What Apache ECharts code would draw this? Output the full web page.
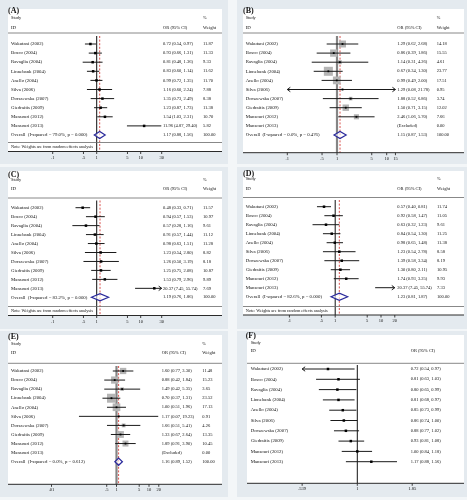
<!DOCTYPE html>
<html>
<head>
<meta charset="utf-8">
<script src="https://cdn.jsdelivr.net/npm/echarts@6.0.0/dist/echarts.min.js"></script>
<style>
html,body{margin:0;padding:0;background:#f3f6f8;}
#chart{width:467px;height:500px;}
</style>
</head>
<body>
<div id="chart"></div>
<script>
// ---------------- data ----------------
const studies = ["Wakutani (2002)","Bosco (2004)","Ravaglia (2004)","Linnebank (2004)","Anello (2004)","Silva (2006)","Dorszewska (2007)","Giedraitis (2009)","Mansouri (2012)","Mansouri (2013)"];

// (A)
const orA = [0.72,0.93,0.81,0.83,0.99,1.16,1.35,1.23,1.54,11.96];
const loA = [0.54,0.66,0.48,0.60,0.72,0.60,0.73,0.87,1.03,4.87];
const hiA = [0.97,1.31,1.36,1.14,1.35,2.24,2.49,1.73,2.31,29.40];
const wtA = [11.87,11.33,9.33,11.62,11.70,7.88,8.38,11.38,10.70,5.82];
const overallA = [1.17,0.88,1.56];
const hetA = "Overall  (I-squared = 79.0%, p = 0.000)";
const tickValA = [0.1,0.5,1,5,10,30];
const tickTxtA = [".1",".5","1","5","10","30"];

// (B)
const orB = [1.29,0.86,1.14,0.67,0.99,1.29,1.88,1.50,2.46,null];
const loB = [0.62,0.39,0.31,0.34,0.49,0.08,0.52,0.71,1.06,null];
const hiB = [2.68,1.86,4.26,1.30,2.00,21.78,6.86,3.15,5.70,null];
const wtB = [14.18,15.55,4.61,23.77,17.51,0.95,3.74,12.02,7.66,0.00];
const overallB = [1.15,0.87,1.53];
const hetB = "Overall  (I-squared = 0.0%, p = 0.476)";
const tickValB = [0.1,0.5,1,5,10,15];
const tickTxtB = [".1",".5","1","5","10","15"];

// (C)
const orC = [0.48,0.94,0.57,0.91,0.98,1.23,1.26,1.25,1.53,20.37];
const loC = [0.33,0.57,0.28,0.57,0.63,0.54,0.50,0.75,0.79,7.45];
const hiC = [0.71,1.53,1.16,1.44,1.51,2.80,3.19,2.08,2.96,55.74];
const wtC = [11.57,10.97,9.61,11.12,11.28,8.82,8.18,10.87,9.89,7.69];
const overallC = [1.19,0.76,1.86];
const hetC = "Overall  (I-squared = 83.2%, p = 0.000)";
const tickValC = [0.1,0.5,1,5,10,30];
const tickTxtC = [".1",".5","1","5","10","30"];

// (D)
const orD = [0.57,0.92,0.63,0.84,0.98,1.23,1.39,1.30,1.74,20.37];
const loD = [0.40,0.58,0.32,0.54,0.65,0.54,0.58,0.80,0.93,7.45];
const hiD = [0.81,1.47,1.23,1.30,1.48,2.78,3.34,2.11,3.25,55.74];
const wtD = [11.74,11.05,9.61,11.25,11.38,8.58,8.19,10.95,9.93,7.33];
const overallD = [1.23,0.81,1.87];
const hetD = "Overall  (I-squared = 82.6%, p = 0.000)";
const tickValD = [0.1,0.5,1,5,10,20];
const tickTxtD = [".1",".5","1","5","10","20"];

// (E)
const orE = [1.60,0.88,1.49,0.70,1.00,1.17,1.66,1.33,1.89,null];
const loE = [0.77,0.42,0.42,0.37,0.51,0.07,0.51,0.67,0.91,null];
const hiE = [3.30,1.84,5.35,1.31,1.96,19.23,5.41,2.64,3.90,null];
const wtE = [11.48,15.23,3.65,23.52,17.13,0.91,4.26,13.35,10.45,0.00];
const overallE = [1.16,0.89,1.52];
const hetE = "Overall  (I-squared = 0.0%, p = 0.612)";
const tickValE = [0.01,0.5,1,5,10,20];
const tickTxtE = [".01",".5","1","5","10","20"];

// (F) cumulative
const orF = [0.72,0.81,0.80,0.81,0.85,0.86,0.88,0.93,1.00,1.17];
const loF = [0.539,0.63,0.65,0.68,0.73,0.74,0.77,0.81,0.84,0.88];
const hiF = [0.97,1.03,0.99,0.97,0.99,1.00,1.02,1.08,1.18,1.56];
const tickValF = [0.539,1,1.85];
const tickTxtF = [".539","1","1.85"];

const noteText = "Note: Weights are from random effects analysis";

// ---------------- layout / style ----------------
const LAY = {
 A:{frame:[0,0,228,164], white:[8,9,222,151.5], title:[8,11.3], studyY:18, idY:27.5, sepY:33, row0:44, step:9.1, lineTop:36, noteSepY:142.5, noteY:147.3, axisY:151.5, tickY:158, c:96.7, d:44, nameX:11, orX:163, wX:203, boxes:false, thickNull:false},
 B:{frame:[237,0,467,164], white:[243,9,464,152.7], title:[243,11.3], studyY:18, idY:27.5, sepY:33, row0:44, step:9.1, lineTop:36, axisY:152.7, tickY:158.7, c:337, d:49.7, nameX:245.7, orX:397.3, wX:436.7, boxes:true, thickNull:true},
 C:{frame:[0,167,228,329], white:[8,171,222,315.5], title:[8,174.5], studyY:179.5, idY:189, sepY:198, row0:207.7, step:8.96, lineTop:200.5, noteSepY:306.5, noteY:310.7, axisY:315.5, tickY:321.7, c:96.7, d:44, nameX:11, orX:163, wX:203, boxes:false, thickNull:false},
 D:{frame:[237,167,467,329], white:[243,171,464,315], title:[243,173.5], studyY:178.5, idY:189, sepY:197.5, row0:206.7, step:9.0, lineTop:200, noteSepY:306.5, noteY:310.7, axisY:315, tickY:321, c:335.2, d:45.8, nameX:245.7, orX:397.3, wX:437, boxes:false, thickNull:false},
 E:{frame:[0,331,228,497], white:[8,335,222,484.3], title:[8,336.5], studyY:344, idY:352.7, sepY:363.3, row0:371, step:9.07, lineTop:366, axisY:484.3, tickY:489.5, c:116.5, d:32.5, nameX:11, orX:161.7, wX:202.3, boxes:true, thickNull:true},
 F:{frame:[237,331,467,497], white:[247,335,464,483.3], title:[245.7,336], studyY:343.3, idY:350.5, sepY:363.3, row0:369, step:10.3, lineTop:365, axisY:483.3, tickY:489.3, c:357.3, d:205.5, nameX:250.7, orX:410.7, boxes:false, thickNull:false}
};

const panels = [
 {key:'A', label:'(A)', or:orA, lo:loA, hi:hiA, wt:wtA, overall:overallA, het:hetA, ticks:tickValA, tickTxt:tickTxtA, note:true},
 {key:'B', label:'(B)', or:orB, lo:loB, hi:hiB, wt:wtB, overall:overallB, het:hetB, ticks:tickValB, tickTxt:tickTxtB, note:false},
 {key:'C', label:'(C)', or:orC, lo:loC, hi:hiC, wt:wtC, overall:overallC, het:hetC, ticks:tickValC, tickTxt:tickTxtC, note:true},
 {key:'D', label:'(D)', or:orD, lo:loD, hi:hiD, wt:wtD, overall:overallD, het:hetD, ticks:tickValD, tickTxt:tickTxtD, note:true},
 {key:'E', label:'(E)', or:orE, lo:loE, hi:hiE, wt:wtE, overall:overallE, het:hetE, ticks:tickValE, tickTxt:tickTxtE, note:false},
 {key:'F', label:'(F)', or:orF, lo:loF, hi:hiF, wt:null, overall:null, het:null, ticks:tickValF, tickTxt:tickTxtF, note:false}
];

const FONT = '"Liberation Serif","Times New Roman",serif';
const FS = 4.8;      // names / labels
const FN = 4.5;      // numeric columns
const TXT = '#111111';
const FRAME = '#e4eaef';
const BOX = 1.85;
const f2 = v => v.toFixed(2);
function T(x, y, s, o) {
  o = o || {};
  return {type:'text', x:x, y:y, silent:true, z:o.z||5,
    style:{text:s, fill:o.fill||TXT, font:(o.bold?'bold ':'') + (o.size||FS) + 'px ' + FONT,
      align:o.align||'left', verticalAlign:'middle'}};
}
function HL(x1, x2, y, color, w) {
  return {type:'line', silent:true, z:3, shape:{x1:x1, y1:y, x2:x2, y2:y}, style:{stroke:color, lineWidth:w||1}};
}

// ---------------- build option ----------------
const graphics = [];
const grids = [], xAxes = [], yAxes = [], series = [];

panels.forEach((p, gi) => {
  const L = LAY[p.key];
  const W = L.white;
  const nRows = p.or.length + (p.overall ? 1 : 0);
  graphics.push({type:'rect', silent:true, z:-10, shape:{x:L.frame[0], y:L.frame[1], width:L.frame[2]-L.frame[0], height:L.frame[3]-L.frame[1]}, style:{fill:FRAME}});
  graphics.push({type:'rect', silent:true, z:-9, shape:{x:W[0], y:W[1], width:W[2]-W[0], height:W[3]-W[1]}, style:{fill:'#ffffff'}});
  graphics.push(T(L.title[0], L.title[1], p.label, {bold:true, size:8}));
  graphics.push(T(L.nameX, L.studyY, 'Study', {size:4.3}));
  graphics.push(T(L.nameX, L.idY, 'ID'));
  graphics.push(T(L.orX, L.idY, 'OR (95% CI)', {size:FN}));
  if (p.wt) {
    graphics.push(T(L.wX, L.studyY, '%', {size:4.3}));
    graphics.push(T(L.wX, L.idY, 'Weight', {size:FN}));
  }
  graphics.push(HL(W[0], W[2], L.sepY, '#6a6a6a', 0.8));
  if (p.note) {
    graphics.push(HL(W[0], W[2], L.noteSepY, '#6a6a6a', 0.8));
    graphics.push(T(L.nameX, L.noteY, noteText, {size:4.3}));
  }
  graphics.push(HL(W[0], W[2], L.axisY, '#2a2a2a', 1));

  const t0 = p.ticks[0], t1 = p.ticks[p.ticks.length - 1];
  const gl = L.c + L.d * Math.log10(t0);
  const gr = L.c + L.d * Math.log10(t1);
  grids.push({left:gl, top:L.row0, width:gr - gl, height:L.step * (nRows - 1)});
  xAxes.push({gridIndex:gi, type:'log', logBase:10, min:t0, max:t1, show:false});
  yAxes.push({gridIndex:gi, type:'value', inverse:true, min:0, max:nRows - 1, show:false});

  const refVals = [1].concat(p.overall ? [p.overall[0]] : []);
  series.push({
    type:'custom', xAxisIndex:gi, yAxisIndex:gi, clip:false, silent:true, z:2,
    data: refVals.map(v => [v, 0]),
    renderItem: (params, api) => {
      const x = api.coord([api.value(0), 0])[0];
      if (params.dataIndex === 0) {
        return {type:'line', shape:{x1:x, y1:L.lineTop, x2:x, y2:L.axisY},
          style: L.thickNull ? {stroke:'#858585', lineWidth:2.2} : {stroke:'#111', lineWidth:1}};
      }
      return {type:'line', shape:{x1:x, y1:L.lineTop, x2:x, y2:L.axisY},
        style:{stroke:'#d9534f', lineWidth:1, lineDash:[2, 1.6]}};
    }
  });

  const rowData = [];
  for (let i = 0; i < nRows; i++) rowData.push([t0, i]);
  series.push({
    type:'custom', xAxisIndex:gi, yAxisIndex:gi, clip:false, silent:true, z:4,
    data: rowData,
    renderItem: (params, api) => {
      const i = params.dataIndex;
      const y = api.coord([t0, i])[1];
      const X = v => api.coord([v, i])[0];
      const ch = [];
      if (i < p.or.length) {
        ch.push(T(L.nameX, y, studies[i]));
        const est = p.or[i];
        if (est != null) {
          const lo = p.lo[i], hi = p.hi[i];
          const xl = X(Math.max(lo, t0)), xh = X(Math.min(hi, t1)), xe = X(est);
          if (L.boxes) {
            const s = BOX * Math.sqrt(p.wt[i]);
            ch.push({type:'rect', shape:{x:xe - s/2, y:y - s/2, width:s, height:s}, style:{fill:'#b5b5b5'}});
          }
          ch.push({type:'line', shape:{x1:xl, y1:y, x2:xh, y2:y}, style:{stroke:'#1a1a1a', lineWidth:1}});
          if (lo <= t0) ch.push({type:'polyline', shape:{points:[[xl+3, y-2.2],[xl, y],[xl+3, y+2.2]]}, style:{stroke:'#1a1a1a', lineWidth:1, fill:null}});
          if (hi >= t1) ch.push({type:'polyline', shape:{points:[[xh-3, y-2.2],[xh, y],[xh-3, y+2.2]]}, style:{stroke:'#1a1a1a', lineWidth:1, fill:null}});
          if (est >= t0 && est <= t1) {
            const s = L.boxes ? 1.8 : 2.5;
            ch.push({type:'rect', shape:{x:xe - s/2, y:y - s/2, width:s, height:s}, style:{fill:'#000'}});
          }
          ch.push(T(L.orX, y, f2(est) + ' (' + f2(lo) + ', ' + f2(hi) + ')', {size:FN}));
        } else {
          ch.push(T(L.orX, y, '(Excluded)', {size:FN}));
        }
        if (p.wt) ch.push(T(L.wX, y, f2(p.wt[i]), {size:FN}));
      } else {
        const o = p.overall;
        ch.push(T(L.nameX, y, p.het));
        const h = 3.6;
        ch.push({type:'polygon', shape:{points:[[X(o[1]), y],[X(o[0]), y-h],[X(o[2]), y],[X(o[0]), y+h]]},
          style:{stroke:'#2a2a9c', lineWidth:1.2, fill:'rgba(255,255,255,0.6)'}});
        ch.push(T(L.orX, y, f2(o[0]) + ' (' + f2(o[1]) + ', ' + f2(o[2]) + ')', {size:FN}));
        ch.push(T(L.wX, y, '100.00', {size:FN}));
      }
      return {type:'group', children:ch};
    }
  });

  series.push({
    type:'custom', xAxisIndex:gi, yAxisIndex:gi, clip:false, silent:true, z:4,
    data: p.ticks.map(v => [v, 0]),
    renderItem: (params, api) => {
      const x = api.coord([api.value(0), 0])[0];
      return {type:'group', children:[
        {type:'line', shape:{x1:x, y1:L.axisY, x2:x, y2:L.axisY + 2.5}, style:{stroke:'#2a2a2a', lineWidth:0.9}},
        T(x, L.tickY, p.tickTxt[params.dataIndex], {align:'center', size:FN})
      ]};
    }
  });
});

const chart = echarts.init(document.getElementById('chart'), null, {renderer:'canvas'});
chart.setOption({
  animation:false,
  backgroundColor:'#f3f6f8',
  graphic:{elements:graphics},
  grid:grids, xAxis:xAxes, yAxis:yAxes, series:series
});
</script>
</body>
</html>
